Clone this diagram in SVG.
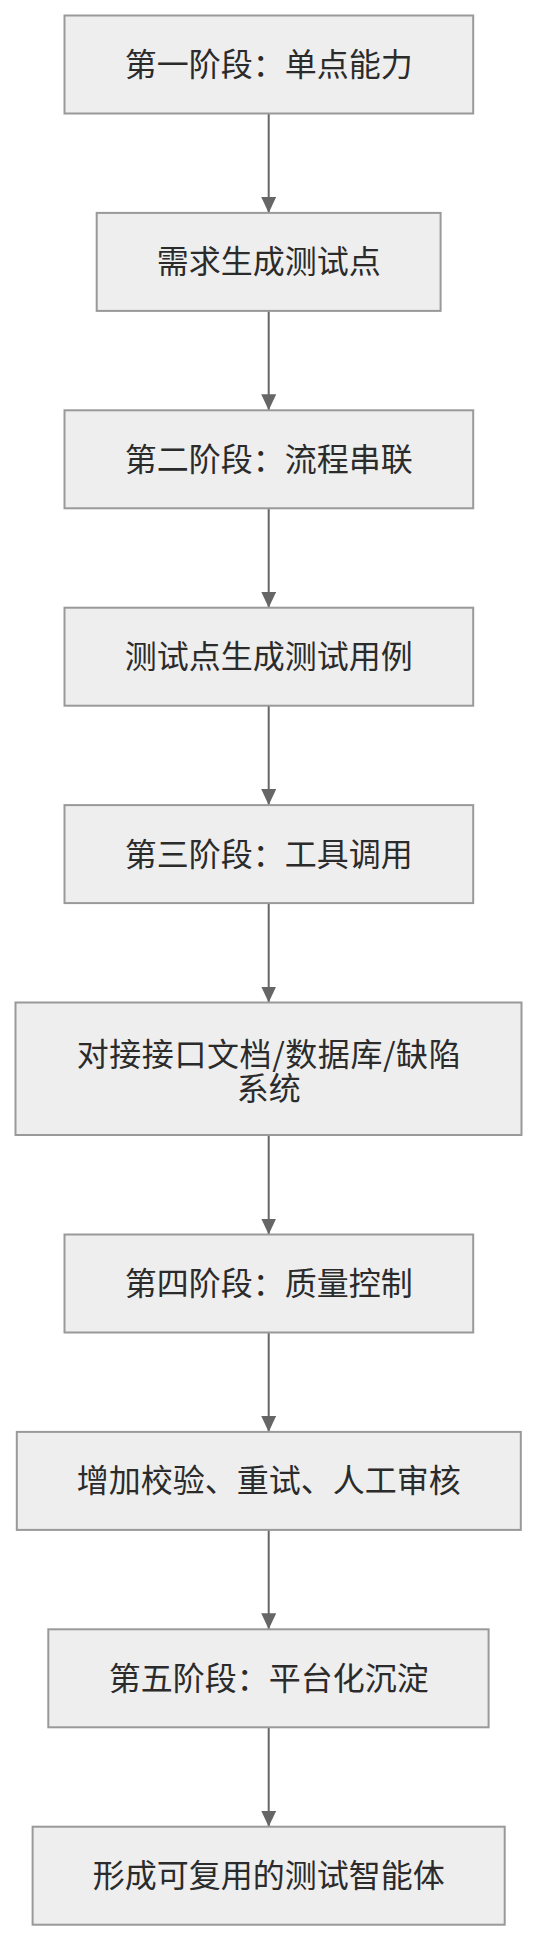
<svg xmlns="http://www.w3.org/2000/svg" width="538" height="1941" viewBox="0 0 538 1941">
<style>
.node rect{fill:#eeeeee;stroke:#999999;stroke-width:2}
.node text{font-family:"Noto Sans CJK SC","Noto Sans",sans-serif;font-size:32px;fill:#2b2b2b;text-anchor:middle}
.edge{stroke:#666666;stroke-width:2;fill:none}
</style>
<defs>
<marker id="arrow" viewBox="0 0 16 15" refX="16" refY="7.5" markerWidth="16" markerHeight="15" markerUnits="userSpaceOnUse" orient="auto">
<path d="M0,0 L16,7.5 L0,15 Z" fill="#666666"/>
</marker>
</defs>
<rect width="538" height="1941" fill="#ffffff"/>
<g id="connectors">
<line class="edge" x1="268.7" y1="113.5" x2="268.7" y2="212.9" marker-end="url(#arrow)"/>
<line class="edge" x1="268.7" y1="310.9" x2="268.7" y2="410.3" marker-end="url(#arrow)"/>
<line class="edge" x1="268.7" y1="508.3" x2="268.7" y2="607.7" marker-end="url(#arrow)"/>
<line class="edge" x1="268.7" y1="705.7" x2="268.7" y2="805.1" marker-end="url(#arrow)"/>
<line class="edge" x1="268.7" y1="903.1" x2="268.7" y2="1002.5" marker-end="url(#arrow)"/>
<line class="edge" x1="268.7" y1="1135" x2="268.7" y2="1234.5" marker-end="url(#arrow)"/>
<line class="edge" x1="268.7" y1="1332.5" x2="268.7" y2="1431.9" marker-end="url(#arrow)"/>
<line class="edge" x1="268.7" y1="1529.9" x2="268.7" y2="1629.3" marker-end="url(#arrow)"/>
<line class="edge" x1="268.7" y1="1727.3" x2="268.7" y2="1826.7" marker-end="url(#arrow)"/>
</g>
<g id="n1" class="node"><rect x="64.5" y="15.5" width="408.7" height="98"/><text x="268.7" y="76">第一阶段：单点能力</text></g>
<g id="n2" class="node"><rect x="96.7" y="212.9" width="343.9" height="98"/><text x="268.7" y="273.4">需求生成测试点</text></g>
<g id="n3" class="node"><rect x="64.5" y="410.3" width="408.7" height="98"/><text x="268.7" y="470.8">第二阶段：流程串联</text></g>
<g id="n4" class="node"><rect x="64.5" y="607.7" width="408.7" height="98"/><text x="268.7" y="668.2">测试点生成测试用例</text></g>
<g id="n5" class="node"><rect x="64.5" y="805.1" width="408.7" height="98"/><text x="268.7" y="865.6">第三阶段：工具调用</text></g>
<g id="n6" class="node"><rect x="15.5" y="1002.5" width="506" height="132.5"/><text><tspan x="268.7" y="1065.7" textLength="384" lengthAdjust="spacing">对接接口文档/数据库/缺陷</tspan><tspan x="268.7" y="1100">系统</tspan></text></g>
<g id="n7" class="node"><rect x="64.5" y="1234.5" width="408.7" height="98"/><text x="268.7" y="1295">第四阶段：质量控制</text></g>
<g id="n8" class="node"><rect x="16.8" y="1431.9" width="504" height="98"/><text x="268.7" y="1492.4">增加校验、重试、人工审核</text></g>
<g id="n9" class="node"><rect x="48.3" y="1629.3" width="440.3" height="98"/><text x="268.7" y="1689.8">第五阶段：平台化沉淀</text></g>
<g id="n10" class="node"><rect x="32.6" y="1826.7" width="472.1" height="98"/><text x="268.7" y="1887.2">形成可复用的测试智能体</text></g>
</svg>
